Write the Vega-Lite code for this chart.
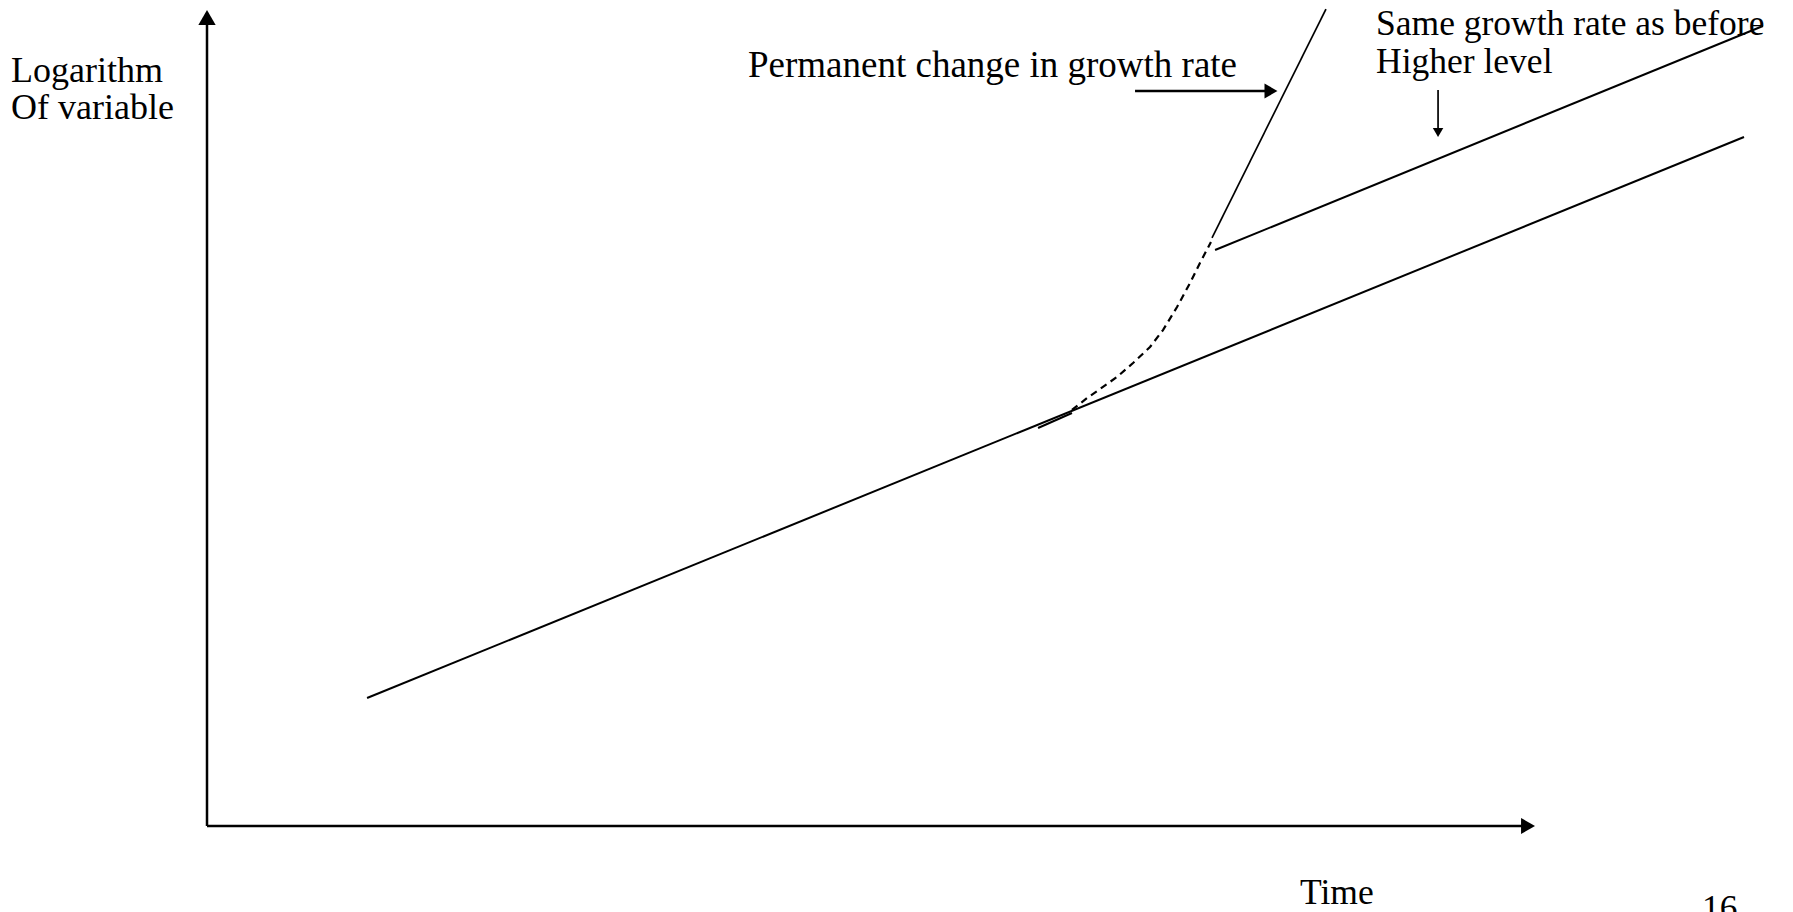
{
  "$schema": "https://vega.github.io/schema/vega-lite/v6.json",
  "width": 1793,
  "height": 912,
  "autosize": {"type": "none"},
  "padding": 0,
  "background": "white",
  "view": {"stroke": null},
  "config": {"font": "Liberation Serif"},
  "datasets": {
    "lines": [
      {"seg": "yaxis", "o": 0, "t": 0, "v": 0},
      {"seg": "yaxis", "o": 1, "t": 0, "v": 60.83},
      {"seg": "xaxis", "o": 0, "t": 0, "v": 0},
      {"seg": "xaxis", "o": 1, "t": 99.25, "v": 0},
      {"seg": "arrowR", "o": 0, "t": 70.04, "v": 55.47},
      {"seg": "arrowR", "o": 1, "t": 79.92, "v": 55.47},
      {"seg": "base", "o": 0, "t": 12.08, "v": 9.66},
      {"seg": "base", "o": 1, "t": 116.0, "v": 52.0},
      {"seg": "upper", "o": 0, "t": 76.08, "v": 43.47},
      {"seg": "upper", "o": 1, "t": 117.43, "v": 60.38},
      {"seg": "stub", "o": 0, "t": 62.72, "v": 30.04},
      {"seg": "stub", "o": 1, "t": 65.28, "v": 31.17},
      {"seg": "steep", "o": 0, "t": 75.85, "v": 44.38},
      {"seg": "steep", "o": 1, "t": 84.45, "v": 61.66},
      {"seg": "arrowD", "o": 0, "t": 92.91, "v": 55.55},
      {"seg": "arrowD", "o": 1, "t": 92.91, "v": 52.68},
      {"seg": "dashed", "o": 0, "t": 65.28, "v": 31.4},
      {"seg": "dashed", "o": 1, "t": 66.42, "v": 32.3},
      {"seg": "dashed", "o": 2, "t": 67.4, "v": 32.98},
      {"seg": "dashed", "o": 3, "t": 68.68, "v": 33.89},
      {"seg": "dashed", "o": 4, "t": 69.89, "v": 34.94},
      {"seg": "dashed", "o": 5, "t": 71.17, "v": 36.15},
      {"seg": "dashed", "o": 6, "t": 72.15, "v": 37.43},
      {"seg": "dashed", "o": 7, "t": 73.21, "v": 39.17},
      {"seg": "dashed", "o": 8, "t": 74.19, "v": 40.98},
      {"seg": "dashed", "o": 9, "t": 74.94, "v": 42.49},
      {"seg": "dashed", "o": 10, "t": 75.77, "v": 44.08}
    ],
    "heads": [
      {"head": "up", "t": 0, "v": 61.02},
      {"head": "right", "t": 99.7, "v": 0},
      {"head": "rightSmall", "t": 80.3, "v": 55.47},
      {"head": "down", "t": 92.91, "v": 52.34}
    ],
    "labels": [
      {"label": "Logarithm", "grp": "axis", "t": -14.79, "v": 56.15},
      {"label": "Of variable", "grp": "axis", "t": -14.79, "v": 53.36},
      {"label": "Permanent change in growth rate", "grp": "perm", "t": 40.83, "v": 56.53},
      {"label": "Same growth rate as before", "grp": "note", "t": 88.23, "v": 59.7},
      {"label": "Higher level", "grp": "note", "t": 88.23, "v": 56.83},
      {"label": "Time", "grp": "note", "t": 82.49, "v": -5.89},
      {"label": "16", "grp": "note", "t": 112.83, "v": -7.09}
    ]
  },
  "encoding": {
    "x": {"field": "t", "type": "quantitative", "axis": null, "scale": {"domain": [-15.623, 119.698], "nice": false, "zero": false}},
    "y": {"field": "v", "type": "quantitative", "axis": null, "scale": {"domain": [-6.491, 62.34], "nice": false, "zero": false}}
  },
  "layer": [
    {
      "data": {"name": "lines"},
      "transform": [{"filter": {"field": "seg", "oneOf": ["yaxis", "xaxis", "arrowR"]}}],
      "mark": {"type": "line", "color": "black", "strokeWidth": 2.5, "strokeCap": "butt"},
      "encoding": {"detail": {"field": "seg"}, "order": {"field": "o", "type": "quantitative"}}
    },
    {
      "data": {"name": "lines"},
      "transform": [{"filter": {"field": "seg", "oneOf": ["base", "upper", "stub"]}}],
      "mark": {"type": "line", "color": "black", "strokeWidth": 2},
      "encoding": {"detail": {"field": "seg"}, "order": {"field": "o", "type": "quantitative"}}
    },
    {
      "data": {"name": "lines"},
      "transform": [{"filter": {"field": "seg", "oneOf": ["steep", "arrowD"]}}],
      "mark": {"type": "line", "color": "black", "strokeWidth": 1.7},
      "encoding": {"detail": {"field": "seg"}, "order": {"field": "o", "type": "quantitative"}}
    },
    {
      "data": {"name": "lines"},
      "transform": [{"filter": {"field": "seg", "equal": "dashed"}}],
      "mark": {"type": "line", "color": "black", "strokeWidth": 2.2, "strokeDash": [7, 5]},
      "encoding": {"order": {"field": "o", "type": "quantitative"}}
    },
    {
      "data": {"name": "heads"},
      "transform": [{"filter": {"field": "head", "equal": "up"}}],
      "mark": {"type": "point", "shape": "triangle-up", "filled": true, "color": "black", "opacity": 1, "size": 300}
    },
    {
      "data": {"name": "heads"},
      "transform": [{"filter": {"field": "head", "equal": "right"}}],
      "mark": {"type": "point", "shape": "triangle-right", "filled": true, "color": "black", "opacity": 1, "size": 260}
    },
    {
      "data": {"name": "heads"},
      "transform": [{"filter": {"field": "head", "equal": "rightSmall"}}],
      "mark": {"type": "point", "shape": "triangle-right", "filled": true, "color": "black", "opacity": 1, "size": 225}
    },
    {
      "data": {"name": "heads"},
      "transform": [{"filter": {"field": "head", "equal": "down"}}],
      "mark": {"type": "point", "shape": "triangle-down", "filled": true, "color": "black", "opacity": 1, "size": 110}
    },
    {
      "data": {"name": "labels"},
      "transform": [{"filter": {"field": "grp", "equal": "axis"}}],
      "mark": {"type": "text", "align": "left", "baseline": "alphabetic", "font": "Liberation Serif", "fontSize": 36, "color": "black"},
      "encoding": {"text": {"field": "label"}}
    },
    {
      "data": {"name": "labels"},
      "transform": [{"filter": {"field": "grp", "equal": "perm"}}],
      "mark": {"type": "text", "align": "left", "baseline": "alphabetic", "font": "Liberation Serif", "fontSize": 37, "color": "black"},
      "encoding": {"text": {"field": "label"}}
    },
    {
      "data": {"name": "labels"},
      "transform": [{"filter": {"field": "grp", "equal": "note"}}],
      "mark": {"type": "text", "align": "left", "baseline": "alphabetic", "font": "Liberation Serif", "fontSize": 35.5, "color": "black"},
      "encoding": {"text": {"field": "label"}}
    }
  ]
}
